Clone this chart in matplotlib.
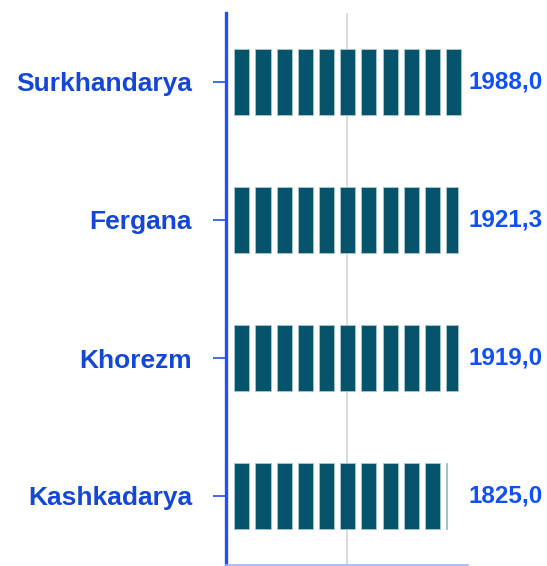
import math
import matplotlib
matplotlib.use("Agg")
import matplotlib.pyplot as plt

categories = ["Surkhandarya", "Fergana", "Khorezm", "Kashkadarya"]
values = [1988.0, 1921.3, 1919.0, 1825.0]
value_labels = ["1988,0", "1921,3", "1919,0", "1825,0"]

# pictograph segment style (data units)
SEG_OFFSET = 68.6
SEG_UNIT = 175.2
SEG_WIDTH = 124.0

plt.rcParams['font.family'] = ['Liberation Sans', 'DejaVu Sans']

fig = plt.figure(figsize=(5.47, 5.66), dpi=100)
ax = fig.add_axes([226/547, 1 - 565/566, (468-226)/547, (565-13)/566])

bar_color = '#06546c'
n = len(categories)
ys = [n - 1 - i for i in range(n)]

for y, v in zip(ys, values):
    i = 0
    while True:
        start = SEG_OFFSET + i * SEG_UNIT
        if start >= v:
            break
        end = min(start + SEG_WIDTH, v)
        ax.barh(y, end - start, left=start, height=0.485, color=bar_color,
                edgecolor='#a9c6cd', linewidth=0.6, zorder=3)
        i += 1

for y, lab in zip(ys, value_labels):
    ax.text(2314, y, lab, ha='center', va='center', fontsize=17.5,
            fontweight='bold', color='#1150f5', clip_on=False)

ax.set_xlim(0, 2000)
ax.set_ylim(-0.5, n - 0.5)
ax.set_yticks(ys)
ax.set_yticklabels(categories, fontsize=19, fontweight='bold', color='#1447d6')
ax.tick_params(axis='y', length=9.4, width=1.2, color='#1f4ff5', pad=15)
ax.set_xticks([1000])
ax.tick_params(axis='x', length=0, labelbottom=False)
ax.grid(axis='x', color='#dcdcdc', linewidth=1.5, zorder=0)
ax.set_axisbelow(True)

for s in ['top', 'right']:
    ax.spines[s].set_visible(False)
ax.spines['left'].set_color('#1f4ff5')
ax.spines['left'].set_linewidth(2.4)
ax.spines['bottom'].set_color('#9fb4ff')
ax.spines['bottom'].set_linewidth(1.2)

fig.savefig("out.png", dpi=100)
